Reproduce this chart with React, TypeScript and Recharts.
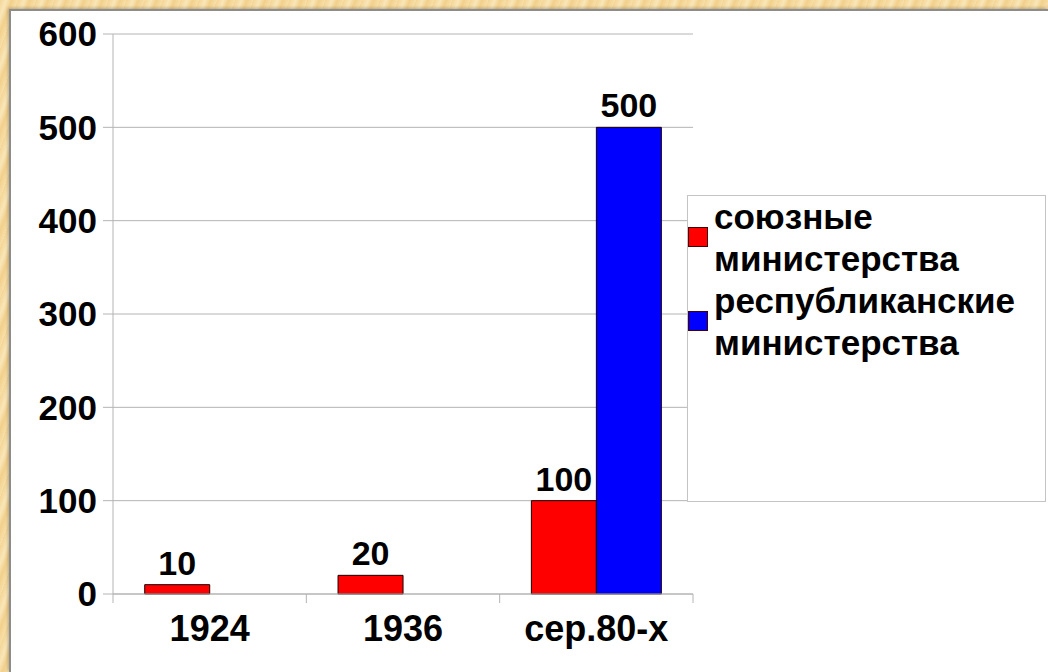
import { BarChart, Bar, XAxis, YAxis, CartesianGrid, Legend, LabelList } from 'recharts';

const categories = ['1924', '1936', 'сер.80-х'];
const unionMinistries = [10, 20, 100];
const republicMinistries = [null, null, 500];
const yTicks = [0, 100, 200, 300, 400, 500, 600];

const SERIES = [
  { key: 'union', label: 'союзные министерства', color: '#ff0000' },
  { key: 'republic', label: 'республиканские министерства', color: '#0000ff' },
];

const data = categories.map((name, i) => ({
  name,
  union: unionMinistries[i],
  republic: republicMinistries[i],
}));

const FONT = '"Liberation Sans", Arial, sans-serif';
const GRID = '#b4b4b4';

// x tick: label plus the little divider marks between categories
function XTick(props: any) {
  const { x, y, payload, index } = props;
  const half = payload.offset || 96.7;
  const axisY = y - 21;
  return (
    <g>
      <line x1={x - half} x2={x - half} y1={axisY} y2={axisY + 9} stroke={GRID} />
      {index === categories.length - 1 && (
        <line x1={x + half} x2={x + half} y1={axisY} y2={axisY + 9} stroke={GRID} />
      )}
      <text
        x={x}
        y={y}
        dy="0.71em"
        textAnchor="middle"
        fill="#000"
        fontSize={36}
        fontWeight="bold"
        fontFamily={FONT}
      >
        {payload.value}
      </text>
    </g>
  );
}

function LegendBox() {
  return (
    <div style={{ fontFamily: FONT, fontWeight: 'bold', fontSize: 35, lineHeight: '42px', color: '#000' }}>
      {SERIES.map((s) => (
        <div key={s.key} style={{ position: 'relative', paddingLeft: 26 }}>
          <span
            style={{
              position: 'absolute',
              left: 0,
              top: 31,
              width: 18,
              height: 18,
              background: s.color,
              border: '1px solid #400',
            }}
          />
          {s.label}
        </div>
      ))}
    </div>
  );
}

export default function App() {
  return (
    <div
      style={{
        position: 'absolute',
        left: 0,
        top: 0,
        width: 1048,
        height: 672,
        overflow: 'hidden',
        background:
          'repeating-linear-gradient(110deg, #f4d596 0px, #f9e6b8 6px, #f2d08c 11px, #f7dfa8 17px)',
      }}
    >
      <div
        style={{
          position: 'absolute',
          left: 9,
          top: 9,
          right: 0,
          bottom: 0,
          background: '#fff',
          borderTop: '2px solid #8c8c8c',
          borderLeft: '2px solid #8c8c8c',
          boxShadow: '-1px -1px 3px rgba(0,0,0,0.25)',
        }}
      />
      <div style={{ position: 'absolute', left: 0, top: 0 }}>
        <BarChart
          width={1048}
          height={672}
          data={data}
          margin={{ top: 34, right: 355, left: 53, bottom: 28 }}
          barCategoryGap="16.4%"
          barGap={0}
        >
          <CartesianGrid vertical={false} stroke={GRID} />
          <XAxis
            dataKey="name"
            height={50}
            tickSize={9}
            tickMargin={12}
            tickLine={false}
            axisLine={{ stroke: GRID }}
            tick={<XTick />}
            interval={0}
          />
          <YAxis
            width={60}
            domain={[0, 600]}
            ticks={yTicks}
            tickSize={10}
            tickMargin={6}
            axisLine={{ stroke: GRID }}
            tickLine={{ stroke: GRID }}
            tick={{ fill: '#000', fontSize: 35, fontWeight: 'bold', fontFamily: FONT }}
          />
          <Legend
            layout="vertical"
            align="center"
            verticalAlign="middle"
            content={<LegendBox />}
            wrapperStyle={{
              left: 687,
              top: 195,
              width: 359,
              height: 307,
              boxSizing: 'border-box',
              border: '1px solid #c4c4c4',
              background: '#fff',
            }}
          />
          {SERIES.map((s) => (
            <Bar
              key={s.key}
              dataKey={s.key}
              name={s.label}
              fill={s.color}
              stroke="#1a0000"
              strokeWidth={1}
              isAnimationActive={false}
            >
              <LabelList
                dataKey={s.key}
                position="top"
                offset={10}
                fill="#000"
                fontSize={34}
                fontWeight="bold"
                fontFamily={FONT}
              />
            </Bar>
          ))}
        </BarChart>
      </div>
    </div>
  );
}
